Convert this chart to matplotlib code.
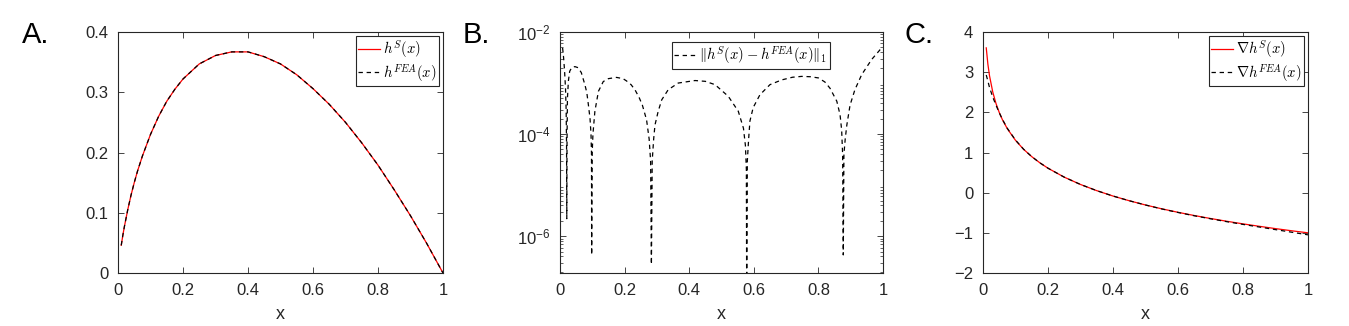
import matplotlib
matplotlib.use("Agg")
import matplotlib.pyplot as plt
from matplotlib.ticker import LogLocator, NullFormatter

plt.rcParams["font.family"] = ["Liberation Sans", "DejaVu Sans"]
plt.rcParams["mathtext.fontset"] = "cm"

# ---- Panel A : h(x) ----
x_h = [0.01, 0.015, 0.02, 0.03, 0.04, 0.05, 0.06, 0.075, 0.1, 0.125, 0.15, 0.175,
       0.2, 0.25, 0.3, 0.35, 0.4, 0.45, 0.5, 0.55, 0.6, 0.65, 0.7, 0.75, 0.8,
       0.85, 0.9, 0.95, 1.0]
h_s = [0.046, 0.063, 0.078, 0.105, 0.129, 0.150, 0.169, 0.194, 0.230, 0.260,
       0.285, 0.305, 0.322, 0.347, 0.361, 0.367, 0.367, 0.359, 0.347, 0.329,
       0.306, 0.280, 0.250, 0.216, 0.179, 0.138, 0.095, 0.049, 0.0]
h_fea = [0.046, 0.063, 0.078, 0.105, 0.129, 0.150, 0.169, 0.194, 0.230, 0.260,
         0.285, 0.305, 0.322, 0.347, 0.361, 0.367, 0.367, 0.359, 0.347, 0.329,
         0.306, 0.280, 0.250, 0.216, 0.179, 0.138, 0.095, 0.049, 0.0]

# ---- Panel B : |h^S - h^FEA| ----
x_err = [0.008, 0.011, 0.014, 0.017, 0.019, 0.0203, 0.021,
         0.0217, 0.023, 0.026, 0.030, 0.036, 0.046, 0.056, 0.066, 0.077, 0.083,
         0.088, 0.093, 0.096, 0.0975, 0.098,
         0.0995, 0.102, 0.108, 0.119, 0.134, 0.150, 0.175, 0.195, 0.206, 0.220,
         0.232, 0.245, 0.255, 0.268, 0.276, 0.2805, 0.283,
         0.2855, 0.290, 0.294, 0.304, 0.315, 0.335, 0.366, 0.418, 0.450, 0.480,
         0.521, 0.552, 0.568, 0.574, 0.577, 0.578,
         0.580, 0.584, 0.588, 0.598, 0.619, 0.650, 0.686, 0.720, 0.748, 0.775,
         0.800, 0.820, 0.836, 0.857, 0.867, 0.872, 0.875, 0.877,
         0.879, 0.883, 0.888, 0.898, 0.913, 0.934, 0.965, 0.991, 1.000]
err = [4.9e-3, 3.2e-3, 1.8e-3, 8e-4, 3e-4, 6e-5, 2.2e-6,
       6e-5, 5e-4, 1.1e-3, 1.7e-3, 2.0e-3, 2.1e-3, 2.0e-3, 1.6e-3, 9.3e-4, 6.5e-4,
       3.7e-4, 2e-4, 1e-4, 4e-5, 4.3e-7,
       4e-5, 1.0e-4, 2.8e-4, 6.9e-4, 1.07e-3, 1.22e-3, 1.29e-3, 1.22e-3, 1.1e-3, 9.3e-4,
       7.4e-4, 5.2e-4, 3.7e-4, 1.9e-4, 8e-5, 3e-5, 2.8e-7,
       3e-5, 8e-5, 1.5e-4, 2.8e-4, 4.7e-4, 7.4e-4, 1.0e-3, 1.12e-3, 1.08e-3, 9.3e-4,
       5.5e-4, 2.8e-4, 1.3e-4, 6e-5, 2e-5, 5e-8,
       3e-5, 8e-5, 1.8e-4, 3.3e-4, 5.9e-4, 9.3e-4, 1.15e-3, 1.3e-3, 1.35e-3, 1.33e-3,
       1.26e-3, 1.05e-3, 7.9e-4, 4.4e-4, 2.4e-4, 1.2e-4, 4e-5, 4.3e-7,
       4e-5, 8e-5, 1.5e-4, 3.7e-4, 7.4e-4, 1.46e-3, 2.9e-3, 4.5e-3, 4.8e-3]

# ---- Panel C : gradient ----
x_g = x_h
g_s = [3.605, 3.200, 2.912, 2.507, 2.219, 1.996, 1.813, 1.590, 1.303, 1.079,
       0.897, 0.743, 0.609, 0.386, 0.204, 0.050, -0.084, -0.201, -0.307, -0.402,
       -0.489, -0.569, -0.643, -0.712, -0.777, -0.837, -0.895, -0.949, -1.0]
g_fea = [2.930, 2.780, 2.620, 2.380, 2.180, 1.990, 1.820, 1.600, 1.310, 1.080,
         0.897, 0.743, 0.609, 0.386, 0.204, 0.050, -0.084, -0.201, -0.307, -0.405,
         -0.493, -0.575, -0.650, -0.722, -0.790, -0.855, -0.920, -0.985, -1.050]

W, H = 1349, 326
fig = plt.figure(figsize=(W / 100, H / 100), dpi=100)

def make_ax(left, right, top=32, bottom=273):
    ax = fig.add_axes([left / W, 1 - bottom / H, (right - left) / W, (bottom - top) / H])
    for s in ax.spines.values():
        s.set_color("#262626")
        s.set_linewidth(0.8)
    ax.tick_params(direction="in", top=True, right=True, length=4, width=0.6,
                   labelsize=12, colors="#262626", pad=7)
    ax.tick_params(which="minor", direction="in", top=True, right=True, length=2,
                   width=0.5, colors="#262626")
    ax.set_xlim(0, 1)
    ax.set_xticks([0, 0.2, 0.4, 0.6, 0.8, 1])
    ax.set_xticklabels(["0", "0.2", "0.4", "0.6", "0.8", "1"])
    ax.set_xlabel("x", fontsize=13, color="#262626", labelpad=6)
    return ax

leg_kw = dict(fontsize=10.5, fancybox=False, framealpha=1, edgecolor="#262626",
              borderpad=0.15, labelspacing=0.1, handlelength=1.5,
              handletextpad=0.2, borderaxespad=0.3)

# A
axA = make_ax(118, 443)
axA.plot(x_h, h_s, color="red", lw=0.9, label=r"$h^S(x)$")
axA.plot(x_h, h_fea, color="black", lw=0.9, dashes=(3.5, 3), label=r"$h^{FEA}(x)$")
axA.set_ylim(0, 0.4)
axA.set_yticks([0, 0.1, 0.2, 0.3, 0.4])
axA.set_yticklabels(["0", "0.1", "0.2", "0.3", "0.4"])
legA = axA.legend(loc="upper right", **leg_kw)
legA.get_frame().set_linewidth(0.8)

# B
axB = make_ax(560, 883)
axB.plot(x_err, err, color="black", lw=0.9, dashes=(3.5, 3),
         label=r"$\Vert h^S(x)-h^{FEA}(x)\Vert_1$")
axB.set_yscale("log")
axB.set_ylim(1.9e-7, 1e-2)
axB.set_yticks([1e-6, 1e-4, 1e-2])
axB.set_yticklabels([r"$\mathregular{10^{-6}}$", r"$\mathregular{10^{-4}}$",
                     r"$\mathregular{10^{-2}}$"])
axB.yaxis.set_minor_locator(LogLocator(base=10, subs=range(2, 10), numticks=20))
axB.yaxis.set_minor_formatter(NullFormatter())
legB = axB.legend(loc="upper right", bbox_to_anchor=(0.848, 0.975), **leg_kw)
legB.get_frame().set_linewidth(0.8)

# C
axC = make_ax(983, 1308)
axC.plot(x_g, g_s, color="red", lw=0.9, label=r"$\nabla h^S(x)$")
axC.plot(x_g, g_fea, color="black", lw=0.9, dashes=(3.5, 3), label=r"$\nabla h^{FEA}(x)$")
axC.set_ylim(-2, 4)
axC.set_yticks([-2, -1, 0, 1, 2, 3, 4])
legC = axC.legend(loc="upper right", **leg_kw)
legC.get_frame().set_linewidth(0.8)

# panel letters
for lab, px in [("A.", 22), ("B.", 463), ("C.", 904)]:
    fig.text(px / W, 1 - 43 / H, lab, fontsize=21, va="baseline", ha="left")

fig.savefig("out.png", dpi=100)
